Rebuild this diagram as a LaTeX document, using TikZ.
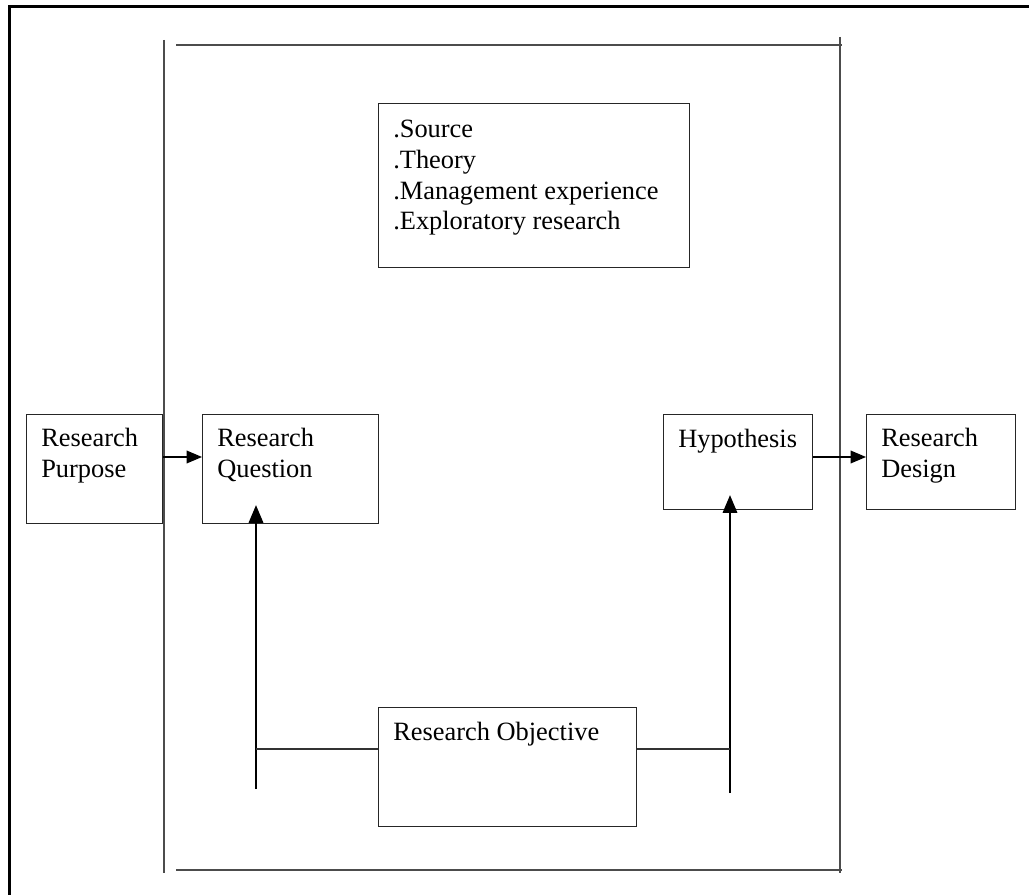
\documentclass[tikz,border=0pt]{standalone}
\usepackage{fontspec}
\setmainfont{Liberation Serif}
\usepackage{tikz}
\usetikzlibrary{arrows,calc}

\tikzset{
  box/.style={draw=black!85,line width=0.9pt,anchor=north west,inner sep=0pt},
  boxtext/.style={anchor=north west,inner sep=0pt,align=left,
                  font=\fontsize{19.8}{23}\selectfont},
  frameline/.style={black!70,line width=1.1pt},
  link/.style={black!80,line width=1.1pt},
}

\begin{document}
\begin{tikzpicture}[x=0.75pt,y=-0.75pt]
\useasboundingbox (0,0) rectangle (1029,895);
\begin{scope}[>=triangle 45]
    % outer frame (only top and left show)
    \draw[black,line width=2.25pt] (9,895) -- (9,6.5) -- (1029,6.5);

    % inner frame
    \draw[frameline] (164,40) -- (164,873);
    \draw[frameline] (176,45) -- (842,45);
    \draw[frameline] (840,37) -- (840,873);
    \draw[frameline] (176,870) -- (842,870);

    % boxes
    \node[box,minimum width=233.25pt,minimum height=123pt] (sources) at (378,103) {};
    \node[box,minimum width=102pt,minimum height=81.75pt] (purpose) at (26,414) {};
    \node[box,minimum width=132pt,minimum height=81.75pt] (question) at (202,414) {};
    \node[box,minimum width=111.75pt,minimum height=71.25pt] (hypo) at (663,414) {};
    \node[box,minimum width=111.75pt,minimum height=71.25pt] (design) at (866,414) {};
    \node[box,minimum width=193.5pt,minimum height=89.25pt] (objective) at (378,707) {};

    % texts
    \node[boxtext] (sourcestxt) at ($(sources.north west)+(15,17)$)
         {.Source\\.Theory\\.Management experience\\.Exploratory research};
    \node[boxtext] (purposetxt) at ($(purpose.north west)+(15,14)$) {Research\\Purpose};
    \node[boxtext] (questiontxt) at ($(question.north west)+(15,14)$) {Research\\Question};
    \node[boxtext] (hypotxt) at ($(hypo.north west)+(15,15)$) {Hypothesis};
    \node[boxtext] (designtxt) at ($(design.north west)+(15,14)$) {Research\\Design};
    \node[boxtext] (objectivetxt) at ($(objective.north west)+(15,15)$) {Research Objective};

    % arrows across the frame
    \draw[black,line width=1.7pt,->] ([yshift=-32.25pt]purpose.north east)
         -- ([yshift=-32.25pt]question.north west);
    \draw[black,line width=1.7pt,->] ([yshift=-32.25pt]hypo.north east)
         -- ([yshift=-32.25pt]design.north west);

    % objective feeding up
    \coordinate (qfoot) at (256,789);
    \coordinate (hfoot) at (730,793);
    \draw[black,line width=2.1pt,->] (qfoot) -- ($(qfoot |- question.south)+(0,-19)$);
    \draw[black,line width=2.1pt,->] (hfoot) -- ($(hfoot |- hypo.south)+(0,-15)$);
    \draw[link] ([yshift=-31.5pt]objective.north west)
         -- ([yshift=-31.5pt]objective.north west -| qfoot);
    \draw[link] ([yshift=-31.5pt]objective.north east)
         -- ([yshift=-31.5pt]objective.north east -| hfoot);
\end{scope}
\end{tikzpicture}
\end{document}
